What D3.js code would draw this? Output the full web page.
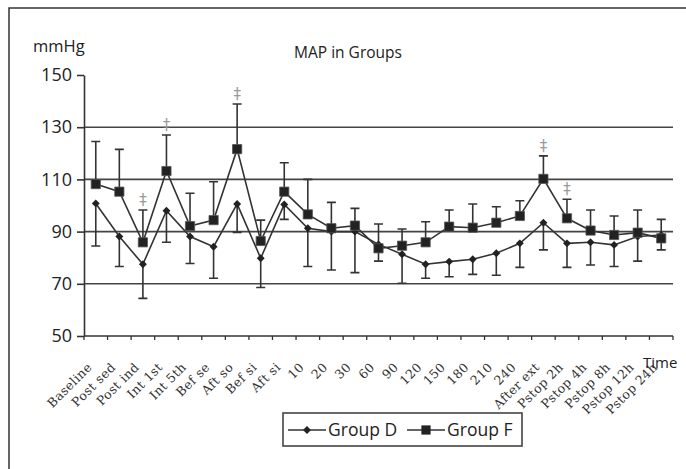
<!DOCTYPE html>
<html>
<head>
<meta charset="utf-8">
<script src="https://cdn.jsdelivr.net/npm/d3@7"></script>
<style>
  body { margin: 0; background: #fff; }
  svg { display: block; }
</style>
</head>
<body>
<svg id="chart"></svg>
<script>
// categories on the time axis
var categories = ["Baseline","Post sed","Post ind","Int 1st","Int 5th","Bef se","Aft so","Bef si","Aft si",
   "10","20","30","60","90","120","150","180","210","240","After ext",
   "Pstop 2h","Pstop 4h","Pstop 8h","Pstop 12h","Pstop 24h"];
// group D mean and lower error end
var groupD    = [100.8,88.1,77.5,98.0,88.1,84.2,100.6,79.8,100.4,91.3,90.0,90.0,85.1,81.3,77.5,78.5,79.4,81.7,85.5,93.4,85.5,85.9,84.9,88.1,88.7];
var groupDLow = [84.5,76.6,64.4,85.9,77.8,72.1,89.7,68.6,94.7,76.6,75.3,74.3,78.7,70.2,72.1,72.7,73.6,73.3,76.3,83.0,76.3,77.2,76.6,78.7,83.0];
// group F mean and upper error end
var groupF     = [108.2,105.3,85.9,113.2,92.1,94.4,121.6,86.4,105.3,96.6,91.3,92.3,83.6,84.6,85.9,91.9,91.5,93.4,96.0,110.2,95.1,90.4,88.7,89.6,87.4];
var groupFHigh = [124.5,121.5,98.3,127.0,104.7,109.1,138.9,94.4,116.4,110.0,101.2,98.9,92.9,91.0,93.8,98.3,100.6,99.5,101.8,119.0,102.4,98.3,96.0,98.3,94.7];
// points marked as significant
var sigMarks = ["Post ind","Int 1st","Aft so","After ext","Pstop 2h"];
var yTicks = [50,70,90,110,130,150];
var gridTicks = [70,90,110,130];

var svg = d3.select('#chart')
   .attr('width',686)
   .attr('height',469);

var x = d3.scaleBand().domain(categories).range([84,673]);
var y = d3.scaleLinear().domain([50,150]).range([336,75]);
function cx(c){ return x(c) + x.bandwidth()/2; }

// outer frame (top and left edge only)
svg.append('path')
   .attr('d','M9,469V8H686')
   .attr('fill','none')
   .attr('stroke','#333')
   .attr('stroke-width',1.5);

// gridlines
svg.selectAll('.grid')
   .data(gridTicks)
   .enter().append('line')
      .attr('class','grid')
      .attr('x1',84).attr('x2',673)
      .attr('y1',function(d){return y(d);})
      .attr('y2',function(d){return y(d);})
      .attr('stroke','#444')
      .attr('stroke-width',1.6);

// y axis
var yAxis = svg.append('g')
   .attr('transform','translate(84,0)')
   .call(d3.axisLeft(y).tickValues(yTicks).tickSize(7).tickSizeOuter(0).tickPadding(5));
yAxis.select('.domain').attr('stroke','#333').attr('stroke-width',1.6);
yAxis.selectAll('.tick line').attr('stroke','#333').attr('stroke-width',1.6);
yAxis.selectAll('.tick text')
   .attr('font-family','"Open Sans", "Noto Sans", sans-serif')
   .attr('font-size',18)
   .attr('fill','#222');

// x axis line and ticks at category boundaries
svg.append('line')
   .attr('x1',84).attr('x2',673)
   .attr('y1',y(50)).attr('y2',y(50))
   .attr('stroke','#333').attr('stroke-width',1.6);
var bounds = categories.map(function(c){return x(c);}).concat([x.range()[1]]);
svg.selectAll('.xtick')
   .data(bounds)
   .enter().append('line')
      .attr('class','xtick')
      .attr('x1',function(d){return d;}).attr('x2',function(d){return d;})
      .attr('y1',y(50)).attr('y2',y(50)+4)
      .attr('stroke','#333').attr('stroke-width',1.3);

// rotated category labels
svg.selectAll('.xlabel')
   .data(categories)
   .enter().append('text')
      .attr('class','xlabel')
      .attr('transform',function(c){return 'translate('+(cx(c)-3)+',368) rotate(-45)';})
      .attr('text-anchor','end')
      .attr('font-family','"DejaVu Serif", serif')
      .attr('font-size',12.5)
      .attr('letter-spacing',0.4)
      .attr('fill','#333')
      .text(function(c){return c;});

// group F upper error bars
svg.selectAll('.errF')
   .data(categories)
   .enter().append('path')
      .attr('class','errF')
      .attr('d',function(c,i){
         var px = cx(c);
         return 'M'+px+','+y(groupF[i])+'V'+y(groupFHigh[i])+'M'+(px-4.5)+','+y(groupFHigh[i])+'H'+(px+4.5);
      })
      .attr('fill','none').attr('stroke','#333').attr('stroke-width',1.6);

// group D lower error bars
svg.selectAll('.errD')
   .data(categories)
   .enter().append('path')
      .attr('class','errD')
      .attr('d',function(c,i){
         var px = cx(c);
         return 'M'+px+','+y(groupD[i])+'V'+y(groupDLow[i])+'M'+(px-4.5)+','+y(groupDLow[i])+'H'+(px+4.5);
      })
      .attr('fill','none').attr('stroke','#333').attr('stroke-width',1.6);

// lines
var lineD = d3.line().x(function(d,i){return cx(categories[i]);}).y(function(d){return y(d);});
svg.append('path')
   .datum(groupD)
   .attr('d',lineD)
   .attr('fill','none').attr('stroke','#333').attr('stroke-width',1.6);
svg.append('path')
   .datum(groupF)
   .attr('d',lineD)
   .attr('fill','none').attr('stroke','#333').attr('stroke-width',1.6);

// markers
var diamond = d3.symbol().type(d3.symbolDiamond2).size(40);
var square = d3.symbol().type(d3.symbolSquare).size(85);
svg.selectAll('.markD')
   .data(groupD)
   .enter().append('path')
      .attr('class','markD')
      .attr('d',diamond)
      .attr('transform',function(d,i){return 'translate('+cx(categories[i])+','+y(d)+')';})
      .attr('fill','#222');
svg.selectAll('.markF')
   .data(groupF)
   .enter().append('path')
      .attr('class','markF')
      .attr('d',square)
      .attr('transform',function(d,i){return 'translate('+cx(categories[i])+','+y(d)+')';})
      .attr('fill','#222').attr('stroke','#555').attr('stroke-width',0.8);

// significance marks
svg.selectAll('.sig')
   .data(sigMarks)
   .enter().append('text')
      .attr('class','sig')
      .attr('x',function(c){return cx(c);})
      .attr('y',function(c){return y(groupFHigh[categories.indexOf(c)])-5;})
      .attr('text-anchor','middle')
      .attr('font-family','"DejaVu Sans", sans-serif')
      .attr('font-size',15)
      .attr('fill','#999')
      .text('\u2021');

// titles
var sans = '"Open Sans", "Noto Sans", sans-serif';
svg.append('text').attr('x',348).attr('y',58).attr('text-anchor','middle')
   .attr('font-family',sans).attr('font-size',15.5).attr('fill','#222').text('MAP in Groups');
svg.append('text').attr('x',33).attr('y',52)
   .attr('font-family',sans).attr('font-size',16.5).attr('fill','#222').text('mmHg');
svg.append('text').attr('x',643).attr('y',368)
   .attr('font-family',sans).attr('font-size',15).attr('fill','#222').text('Time');

// legend
var legend = svg.append('g');
legend.append('rect')
   .attr('x',283).attr('y',413).attr('width',239).attr('height',33)
   .attr('fill','#fff').attr('stroke','#444').attr('stroke-width',1.6);
var legendItems = [
   {name:'Group D', sym:diamond, x0:288},
   {name:'Group F', sym:square, x0:407}
];
legendItems.forEach(function(item){
   legend.append('line')
      .attr('x1',item.x0).attr('x2',item.x0+38)
      .attr('y1',430).attr('y2',430)
      .attr('stroke','#333').attr('stroke-width',1.6);
   legend.append('path')
      .attr('d',item.sym)
      .attr('transform','translate('+(item.x0+19)+',430)')
      .attr('fill','#222');
   legend.append('text')
      .attr('x',item.x0+40).attr('y',436)
      .attr('font-family',sans).attr('font-size',17.5).attr('fill','#222')
      .text(item.name);
});
</script>
</body>
</html>
